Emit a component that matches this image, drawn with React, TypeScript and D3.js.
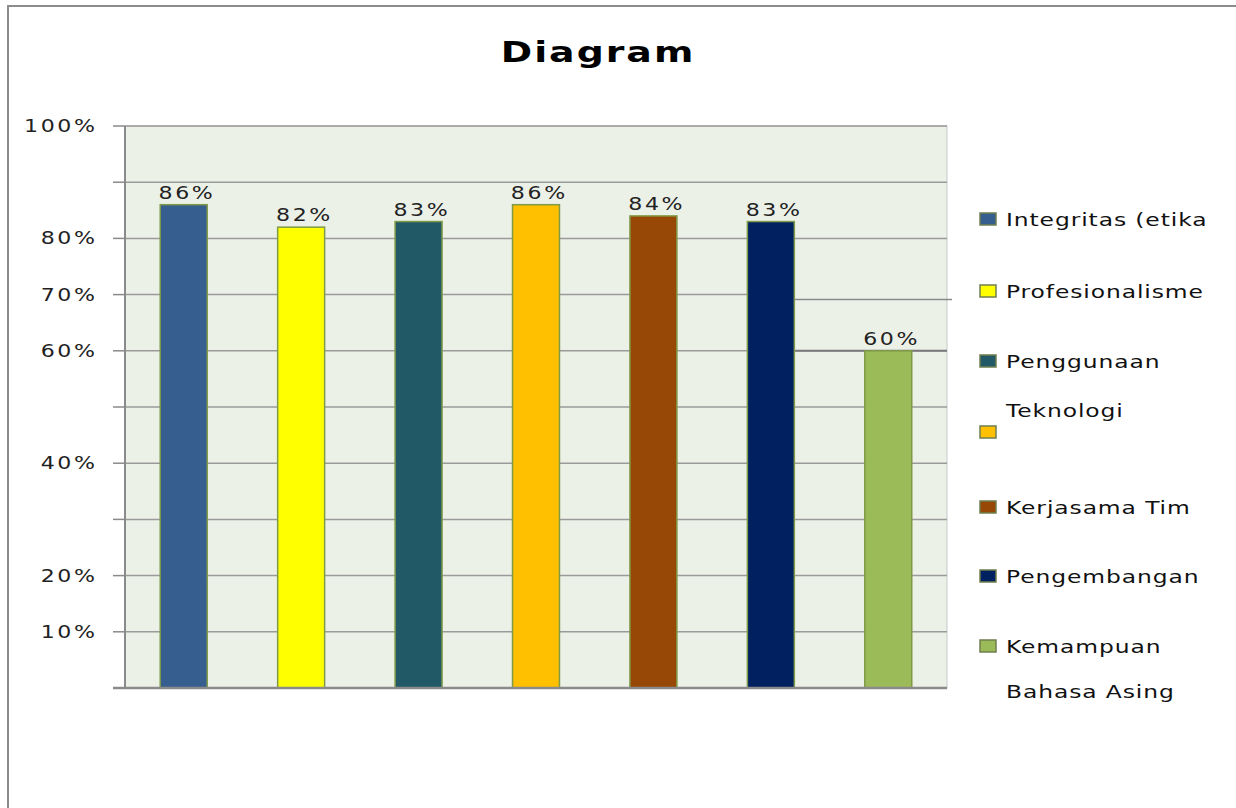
import React from "react";
import * as d3 from "d3";

const seriesNames = [
  "Integritas (etika",
  "Profesionalisme",
  "Penggunaan",
  "Teknologi",
  "Kerjasama Tim",
  "Pengembangan",
  "Kemampuan",
  "Bahasa Asing",
];
const values = [86, 82, 83, 86, 84, 83, 60];
const colors = ["#365E8E", "#FFFF00", "#215967", "#FFC000", "#974706", "#002060", "#9BBB59"];
const tickValues = [0, 10, 20, 30, 40, 50, 60, 70, 80, 90, 100];
const tickLabels = ["", "10%", "20%", "", "40%", "", "60%", "70%", "80%", "", "100%"];

const SX = 1.3;

function T(props: {
  x: number;
  y: number;
  size: number;
  ls: number;
  anchor?: "start" | "middle" | "end";
  weight?: string;
  sx?: number;
  fill?: string;
  children: React.ReactNode;
}) {
  const sx = props.sx ?? SX;
  const shift = props.anchor === "end" ? props.ls : props.anchor === "middle" ? props.ls / 2 : 0;
  return (
    <text
      transform={`translate(${props.x},${props.y}) scale(${sx},1)`}
      x={shift}
      textAnchor={props.anchor ?? "start"}
      fontSize={props.size}
      letterSpacing={props.ls}
      fontWeight={props.weight ?? "normal"}
      fill={props.fill ?? "#222"}
    >
      {props.children}
    </text>
  );
}

export default function App() {
  const W = 1236;
  const H = 808;
  const left = 125;
  const right = 947;
  const top = 126;
  const bottom = 688;
  const y = d3.scaleLinear().domain([0, 100]).range([bottom, top]);
  const x = d3
    .scaleBand<number>()
    .domain(values.map((_, i) => i))
    .range([left, right])
    .paddingInner(0.6)
    .paddingOuter(0.3);
  const font = "'DejaVu Sans', Verdana, sans-serif";
  const legendY = [219, 291, 361, 432, 507, 576, 646];
  const legendTextY = [226, 298, 368, 417, 514, 583, 653, 698];
  const bar6End = (x(5) ?? 0) + x.bandwidth();
  return (
    <svg
      width={W}
      height={H}
      style={{ position: "absolute", left: 0, top: 0, background: "#fff" }}
      fontFamily={font}
    >
      <rect x={8} y={6} width={W + 10} height={H + 10} fill="#fff" stroke="#8c8c8c" strokeWidth={2} />
      <T x={597} y={62} size={28} ls={1.5} anchor="middle" weight="bold" sx={1.35} fill="#000">
        Diagram
      </T>
      <rect x={left} y={top} width={right - left} height={bottom - top} fill="#ECF1E8" stroke="#c8c8c8" strokeWidth={1} />
      {tickValues.map((v, i) => {
        const yy = y(v);
        const isSeventy = v === 70;
        return (
          <g key={v}>
            {v > 0 && (
              <line
                x1={left}
                x2={isSeventy ? bar6End : right}
                y1={yy}
                y2={yy}
                stroke="#9a9a9a"
                strokeWidth={1.5}
              />
            )}
            {isSeventy && (
              <line x1={bar6End} x2={right + 5} y1={yy + 5} y2={yy + 5} stroke="#8a8a8a" strokeWidth={1.5} />
            )}
            <line x1={left - 12} x2={left} y1={yy} y2={yy} stroke="#8a8a8a" strokeWidth={1.5} />
            <T x={95} y={yy + 6} size={17} ls={2} anchor="end">
              {tickLabels[i]}
            </T>
          </g>
        );
      })}
      <line x1={bar6End} x2={right} y1={y(60)} y2={y(60)} stroke="#7a7a7a" strokeWidth={2} />
      {values.map((v, i) => (
        <g key={i}>
          <rect
            x={x(i)}
            y={y(v)}
            width={x.bandwidth()}
            height={bottom - y(v)}
            fill={colors[i]}
            stroke="#7F9A48"
            strokeWidth={1.5}
          />
          <T x={(x(i) ?? 0) + x.bandwidth() / 2 + 2} y={y(v) - 6} size={17} ls={2} anchor="middle">
            {v}%
          </T>
        </g>
      ))}
      <line x1={left} x2={left} y1={top} y2={bottom} stroke="#8a8a8a" strokeWidth={2} />
      <line x1={left - 12} x2={right} y1={bottom} y2={bottom} stroke="#8a8a8a" strokeWidth={2.5} />
      {colors.map((c, i) => (
        <rect key={i} x={980} y={legendY[i] - 6} width={16} height={12} fill={c} stroke="#6f7f4f" strokeWidth={1.5} />
      ))}
      {seriesNames.map((t, i) => (
        <T key={i} x={1006} y={legendTextY[i]} size={18} ls={0.7} fill="#111">
          {t}
        </T>
      ))}
    </svg>
  );
}
